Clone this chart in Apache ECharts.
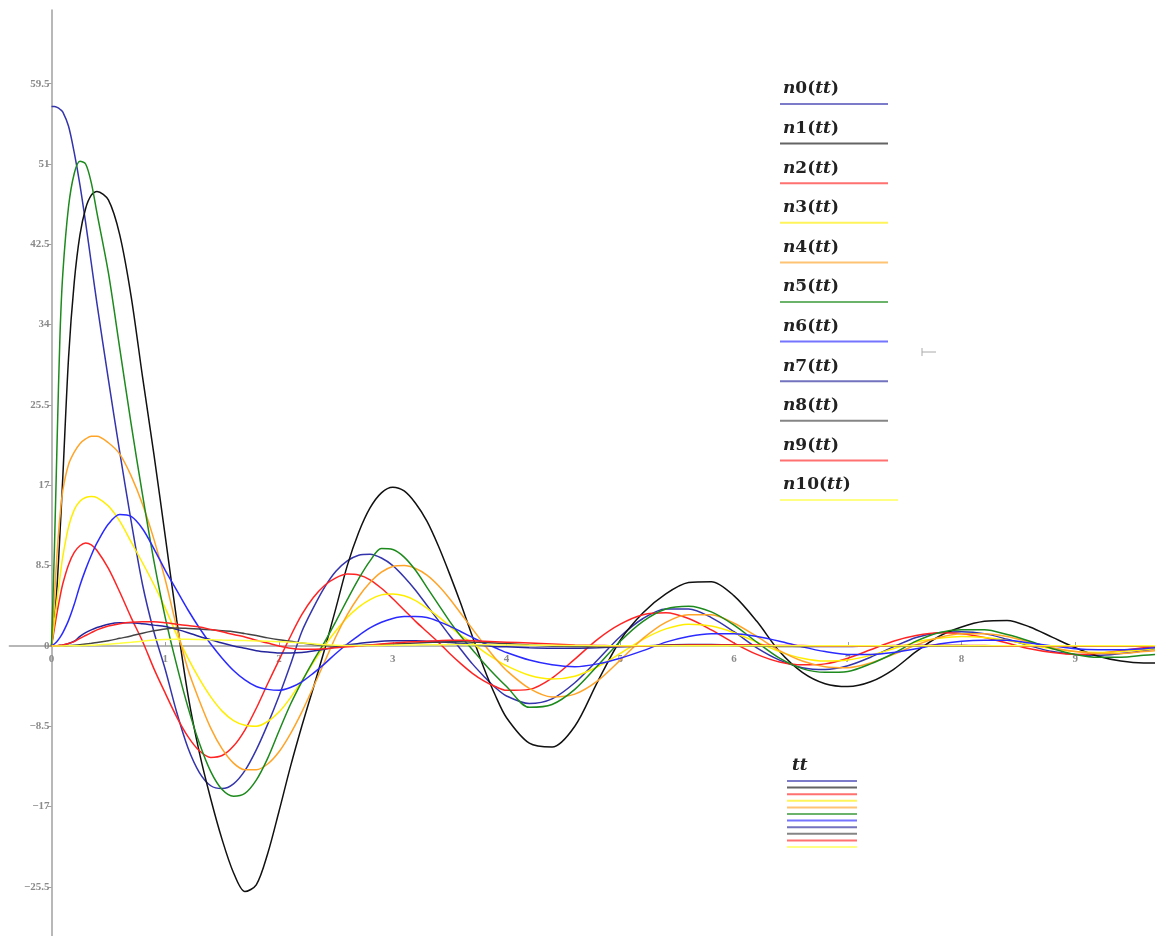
<!DOCTYPE html>
<html>
<head>
<meta charset="utf-8">
<script src="https://cdn.jsdelivr.net/npm/echarts@6/dist/echarts.min.js"></script>
<style>
html, body { margin: 0; padding: 0; background: #fff; }
#main { width: 1155px; height: 936px; }
</style>
</head>
<body>
<div id="main"></div>
<script>
// sample times
var tt = [0, 0.025, 0.05, 0.075, 0.1, 0.15, 0.2, 0.25, 0.3, 0.35, 0.4,
  0.5, 0.6, 0.7, 0.8, 0.9, 1.0, 1.1, 1.2, 1.3, 1.4, 1.5, 1.6, 1.7, 1.8, 1.9,
  2.0, 2.1, 2.2, 2.3, 2.4, 2.5, 2.6, 2.7, 2.8, 2.9, 3.0, 3.1, 3.2, 3.3, 3.4, 3.5, 3.6, 3.7, 3.8, 3.9, 4.0,
  4.2, 4.4, 4.6, 4.8, 5.0, 5.2, 5.4, 5.6, 5.8, 6.0, 6.2, 6.4, 6.6, 6.8, 7.0, 7.2, 7.4, 7.6, 7.8, 8.0,
  8.2, 8.4, 8.6, 8.8, 9.0, 9.2, 9.4, 9.6, 9.7]

var n0 = [57.1, 57.1, 57.0, 56.8, 56.5, 55.0, 52.2, 48.8, 44.8, 40.5, 36.2,
  28.2, 20.5, 13.2, 6.5, 1.5, -2.5, -7.0, -10.8, -13.4, -14.8, -15.1, -14.6, -13.2, -11.0, -8.3,
  -5.3, -2.0, 1.5, 4.0, 6.2, 7.9, 9.0, 9.6, 9.7, 9.3, 8.5, 7.3, 5.9, 4.3, 2.7, 1.1, -0.4, -1.9, -3.2, -4.4, -5.3,
  -6.1, -5.6, -3.9, -1.5, 1.0, 2.9, 3.9, 3.9, 3.0, 1.5, -0.2, -1.5, -2.3, -2.5, -2.1, -1.2, -0.1, 0.9, 1.4, 1.5,
  1.3, 0.7, 0.0, -0.6, -0.9, -1.0, -0.8, -0.5, -0.3]
var n1 = [0, 2.5, 6.5, 12.0, 18.0, 30.5, 38.5, 43.5, 46.3, 47.7, 48.1,
  47.2, 43.5, 37.0, 28.5, 20.3, 11.6, 2.8, -5.2, -11.3, -16.2, -20.5, -24.0, -26.0, -25.3, -22.0,
  -17.5, -12.8, -8.5, -4.5, -0.4, 4.0, 8.5, 12.0, 14.6, 16.2, 16.8, 16.4, 15.1, 13.2, 10.6, 7.6, 4.4, 1.0, -2.3, -5.2, -7.6,
  -10.3, -10.7, -8.5, -3.8, 0.6, 3.5, 5.5, 6.7, 6.8, 5.3, 2.6, -0.6, -2.8, -4.0, -4.3, -3.8, -2.5, -0.6, 1.0, 2.0,
  2.6, 2.7, 2.0, 0.9, -0.2, -1.1, -1.6, -1.8, -1.8]
var n2 = [0, 1.8, 3.6, 5.2, 6.6, 8.6, 9.9, 10.6, 10.9, 10.7, 10.1,
  8.2, 5.7, 3.0, 0.5, -2.4, -5.0, -7.5, -9.6, -11.1, -11.8, -11.6, -10.6, -8.9, -6.6, -4.0,
  -1.5, 1.0, 3.3, 5.1, 6.4, 7.2, 7.6, 7.5, 7.0, 6.1, 5.0, 3.8, 2.6, 1.5, 0.4, -0.8, -1.9, -2.9, -3.7, -4.3, -4.7,
  -4.6, -3.4, -1.4, 0.7, 2.3, 3.3, 3.5, 2.9, 1.7, 0.3, -0.9, -1.7, -2.0, -1.9, -1.3, -0.4, 0.5, 1.1, 1.4, 1.3,
  0.9, 0.3, -0.3, -0.7, -0.9, -0.8, -0.5, -0.2, -0.1]
var n3 = [0, 2.5, 5.0, 7.3, 9.5, 12.6, 14.4, 15.3, 15.7, 15.8, 15.7,
  14.8, 13.2, 11.0, 8.8, 6.5, 4.0, 1.2, -1.3, -3.5, -5.4, -6.9, -7.9, -8.4, -8.5, -8.0,
  -7.0, -5.5, -3.7, -1.8, 0.0, 1.6, 3.0, 4.1, 4.9, 5.4, 5.5, 5.3, 4.8, 4.0, 3.1, 2.1, 1.1, 0.3, -0.6, -1.4, -2.1,
  -3.1, -3.5, -3.2, -2.2, -0.8, 0.7, 1.8, 2.3, 2.1, 1.4, 0.4, -0.6, -1.3, -1.6, -1.5, -1.0, -0.3, 0.4, 0.8, 1.0,
  0.9, 0.6, 0.1, -0.3, -0.6, -0.7, -0.6, -0.4, -0.3]
var n4 = [0, 5.0, 10.0, 13.8, 16.5, 19.2, 20.5, 21.4, 21.9, 22.2, 22.2,
  21.5, 20.3, 18.0, 15.0, 11.3, 7.0, 2.0, -2.5, -5.8, -8.7, -10.9, -12.4, -13.1, -13.1, -12.5,
  -11.2, -9.3, -7.0, -4.4, -1.7, 1.0, 3.3, 5.2, 6.7, 7.8, 8.4, 8.5, 8.2, 7.5, 6.4, 5.0, 3.4, 1.8, 0.2, -1.3, -2.6,
  -4.5, -5.4, -5.1, -3.7, -1.5, 0.8, 2.5, 3.3, 3.3, 2.4, 1.0, -0.5, -1.6, -2.2, -2.3, -1.8, -0.9, 0.1, 0.9, 1.3,
  1.3, 1.0, 0.4, -0.2, -0.6, -0.8, -0.8, -0.6, -0.5]
var n5 = [0, 10.0, 22.0, 33.0, 39.5, 46.5, 50.0, 51.3, 51.0, 49.0, 45.8,
  39.5, 31.5, 23.5, 16.0, 9.0, 3.0, -2.0, -6.5, -10.3, -13.3, -15.2, -15.9, -15.6, -14.2, -11.9,
  -9.0, -6.2, -3.8, -1.6, 0.4, 2.6, 4.9, 7.1, 9.0, 10.3, 10.2, 9.4, 8.0, 6.2, 4.4, 2.6, 1.0, -0.4, -1.8, -3.1, -4.3,
  -6.5, -6.2, -4.6, -2.1, 0.5, 2.6, 3.9, 4.2, 3.6, 2.2, 0.4, -1.3, -2.4, -2.8, -2.7, -1.9, -0.8, 0.5, 1.4, 1.7,
  1.7, 1.2, 0.5, -0.3, -0.9, -1.2, -1.2, -1.0, -0.9]
var n6 = [0, 0.2, 0.5, 0.9, 1.4, 2.7, 4.4, 6.4, 8.1, 9.6, 10.9,
  12.9, 13.9, 13.7, 12.4, 10.3, 8.0, 5.9, 3.8, 1.9, 0.2, -1.3, -2.6, -3.6, -4.3, -4.6,
  -4.7, -4.4, -3.8, -2.9, -1.9, -0.8, 0.2, 1.1, 1.9, 2.5, 2.9, 3.1, 3.1, 3.0, 2.6, 2.1, 1.5, 0.9, 0.3, -0.2, -0.7,
  -1.5, -2.0, -2.2, -1.9, -1.3, -0.5, 0.4, 1.0, 1.3, 1.3, 1.0, 0.5, -0.1, -0.6, -0.9, -0.9, -0.7, -0.3, 0.2, 0.5,
  0.6, 0.6, 0.3, 0.0, -0.3, -0.4, -0.4, -0.3, -0.2]
var n7 = [0, 0.01, 0.03, 0.06, 0.1, 0.25, 0.5, 1.0, 1.4, 1.7, 1.95,
  2.3, 2.45, 2.45, 2.35, 2.2, 2.05, 1.75, 1.4, 1.0, 0.65, 0.3, 0.0, -0.25, -0.5, -0.65,
  -0.75, -0.75, -0.7, -0.55, -0.35, -0.12, 0.1, 0.25, 0.4, 0.5, 0.55, 0.55, 0.55, 0.5, 0.45, 0.35, 0.25, 0.15, 0.05, -0.05, -0.1,
  -0.2, -0.25, -0.25, -0.2, -0.1, 0.0, 0.1, 0.15, 0.15, 0.1, 0.05, 0.0, -0.05, -0.05, -0.05, 0.0, 0.0, 0.05, 0.05, 0.05,
  0.0, 0.0, 0.0, 0.0, 0.0, 0.0, 0.0, 0.0, 0.0]
var n8 = [0, 0, 0, 0.01, 0.02, 0.04, 0.08, 0.13, 0.2, 0.27, 0.35,
  0.55, 0.8, 1.05, 1.35, 1.6, 1.8, 1.9, 1.85, 1.78, 1.7, 1.6, 1.5, 1.3, 1.1, 0.85,
  0.65, 0.5, 0.3, 0.15, 0.05, 0.0, 0.0, 0.05, 0.1, 0.15, 0.2, 0.25, 0.3, 0.35, 0.4, 0.45, 0.45, 0.4, 0.35, 0.3, 0.25,
  0.1, 0.0, -0.05, -0.1, -0.05, 0.0, 0.05, 0.1, 0.1, 0.05, 0.0, -0.05, -0.05, 0.0, 0.0, 0.0, 0.0, 0.0, 0.0, 0.0,
  0.0, 0.0, 0.0, 0.0, 0.0, 0.0, 0.0, 0.0, 0.0]
var n9 = [0, 0.01, 0.03, 0.06, 0.1, 0.25, 0.45, 0.8, 1.1, 1.4, 1.7,
  2.1, 2.35, 2.5, 2.55, 2.55, 2.45, 2.3, 2.15, 2.0, 1.75, 1.5, 1.2, 0.95, 0.6, 0.3,
  0.0, -0.25, -0.35, -0.35, -0.3, -0.2, -0.1, 0.0, 0.1, 0.2, 0.3, 0.4, 0.45, 0.5, 0.55, 0.6, 0.6, 0.55, 0.5, 0.45, 0.4,
  0.3, 0.2, 0.1, 0.05, 0.0, 0.0, 0.05, 0.1, 0.1, 0.1, 0.1, 0.05, 0.05, 0.0, 0.0, 0.0, 0.05, 0.05, 0.05, 0.05,
  0.05, 0.0, 0.0, 0.0, 0.0, 0.0, 0.0, 0.0, 0.0]
var n10 = [0, 0, 0, 0, 0, 0.01, 0.02, 0.03, 0.05, 0.07, 0.1,
  0.18, 0.27, 0.38, 0.5, 0.62, 0.68, 0.7, 0.7, 0.68, 0.65, 0.62, 0.6, 0.57, 0.53, 0.5,
  0.45, 0.4, 0.32, 0.22, 0.13, 0.07, 0.04, 0.03, 0.04, 0.05, 0.07, 0.09, 0.11, 0.12, 0.13, 0.14, 0.14, 0.13, 0.12, 0.11, 0.1,
  0.08, 0.06, 0.04, 0.03, 0.02, 0.02, 0.02, 0.02, 0.02, 0.02, 0.02, 0.02, 0.02, 0.02, 0.02, 0.02, 0.02, 0.02, 0.02, 0.02,
  0.02, 0.02, 0.02, 0.02, 0.02, 0.02, 0.02, 0.02, 0.02]

var names = ['n0', 'n1', 'n2', 'n3', 'n4', 'n5', 'n6', 'n7', 'n8', 'n9', 'n10']
var values = [n0, n1, n2, n3, n4, n5, n6, n7, n8, n9, n10]
var colors = ['#3434ac', '#111111', '#ff2424', '#ffee00', '#ffa428', '#1c8a1c', '#2a2aff', '#26269c', '#444444', '#ff2424', '#ffff40']

var xTicks = [0, 1, 2, 3, 4, 5, 6, 7, 8, 9]
var yTicks = [-25.5, -17, -8.5, 0, 8.5, 17, 25.5, 34, 42.5, 51, 59.5]

var labelStyle = {
  color: '#8a8a8a',
  fontFamily: 'Liberation Serif',
  fontWeight: 'bold',
  fontSize: 11,
  hideOverlap: false
}

var series = []
for (var i = 0; i < names.length; i++) {
  var pts = []
  for (var k = 0; k < tt.length; k++) {
    pts.push([tt[k], values[i][k]])
  }
  series.push({
    name: names[i],
    type: 'line',
    data: pts,
    smooth: 0.3,
    symbol: 'none',
    lineStyle: { color: colors[i], width: 1.5 },
    itemStyle: { color: colors[i] }
  })
}

// legend in the mathcad style: text above a line
var richText = {
  i: { fontFamily: 'DejaVu Serif', fontStyle: 'italic', fontWeight: 'bold', fontSize: 17, fill: '#222' },
  b: { fontFamily: 'DejaVu Serif', fontWeight: 'bold', fontSize: 17, fill: '#222' }
}
var graphic = []
for (var j = 0; j < names.length; j++) {
  var ty = 89 + j * 39.6
  graphic.push({
    type: 'text',
    x: 783,
    y: ty,
    style: {
      text: '{i|n}{b|' + names[j].slice(1) + '(}{i|tt}{b|)}',
      rich: richText,
      verticalAlign: 'middle'
    }
  })
  graphic.push({
    type: 'line',
    shape: { x1: 780, y1: ty + 15, x2: j === 10 ? 898 : 888, y2: ty + 15 },
    style: { stroke: colors[j], lineWidth: 2, opacity: 0.65 }
  })
  graphic.push({
    type: 'line',
    shape: { x1: 787, y1: 781 + j * 6.6, x2: 857, y2: 781 + j * 6.6 },
    style: { stroke: colors[j], lineWidth: 2, opacity: 0.65 }
  })
}
graphic.push({
  type: 'text',
  x: 792,
  y: 766,
  style: { text: '{i|tt}', rich: richText, verticalAlign: 'middle' }
})
graphic.push({
  type: 'line',
  shape: { x1: 922, y1: 352, x2: 936, y2: 352 },
  style: { stroke: '#aaa', lineWidth: 1 }
})
graphic.push({
  type: 'line',
  shape: { x1: 922, y1: 348, x2: 922, y2: 356 },
  style: { stroke: '#aaa', lineWidth: 1 }
})

var myChart = echarts.init(document.getElementById('main'))
var option = {
  animation: false,
  backgroundColor: '#fff',
  grid: { left: 9.4, right: 0, top: 10, bottom: 0, containLabel: false, outerBoundsMode: 'none' },
  xAxis: {
    type: 'value',
    min: -0.37,
    max: 9.7,
    position: 'bottom',
    offset: -290,
    axisLine: { onZero: false, lineStyle: { color: '#a0a0a0', width: 1.5 } },
    axisTick: { show: true, inside: true, length: 4, customValues: xTicks, lineStyle: { color: '#a0a0a0' } },
    axisLabel: Object.assign({ customValues: xTicks, margin: 8, interval: 0 }, labelStyle),
    splitLine: { show: false }
  },
  yAxis: {
    type: 'value',
    min: -30.7,
    max: 67.3,
    position: 'left',
    offset: -42.1,
    axisLine: { onZero: false, lineStyle: { color: '#a0a0a0', width: 1.5 } },
    axisTick: { show: true, length: 4, customValues: yTicks, lineStyle: { color: '#a0a0a0' } },
    axisLabel: Object.assign({
      customValues: yTicks,
      margin: 2,
      formatter: function(v) {
        return String(v).replace('-', '\u2212')
      }
    }, labelStyle),
    splitLine: { show: false }
  },
  series: series,
  graphic: graphic
}
myChart.setOption(option)
</script>
</body>
</html>
